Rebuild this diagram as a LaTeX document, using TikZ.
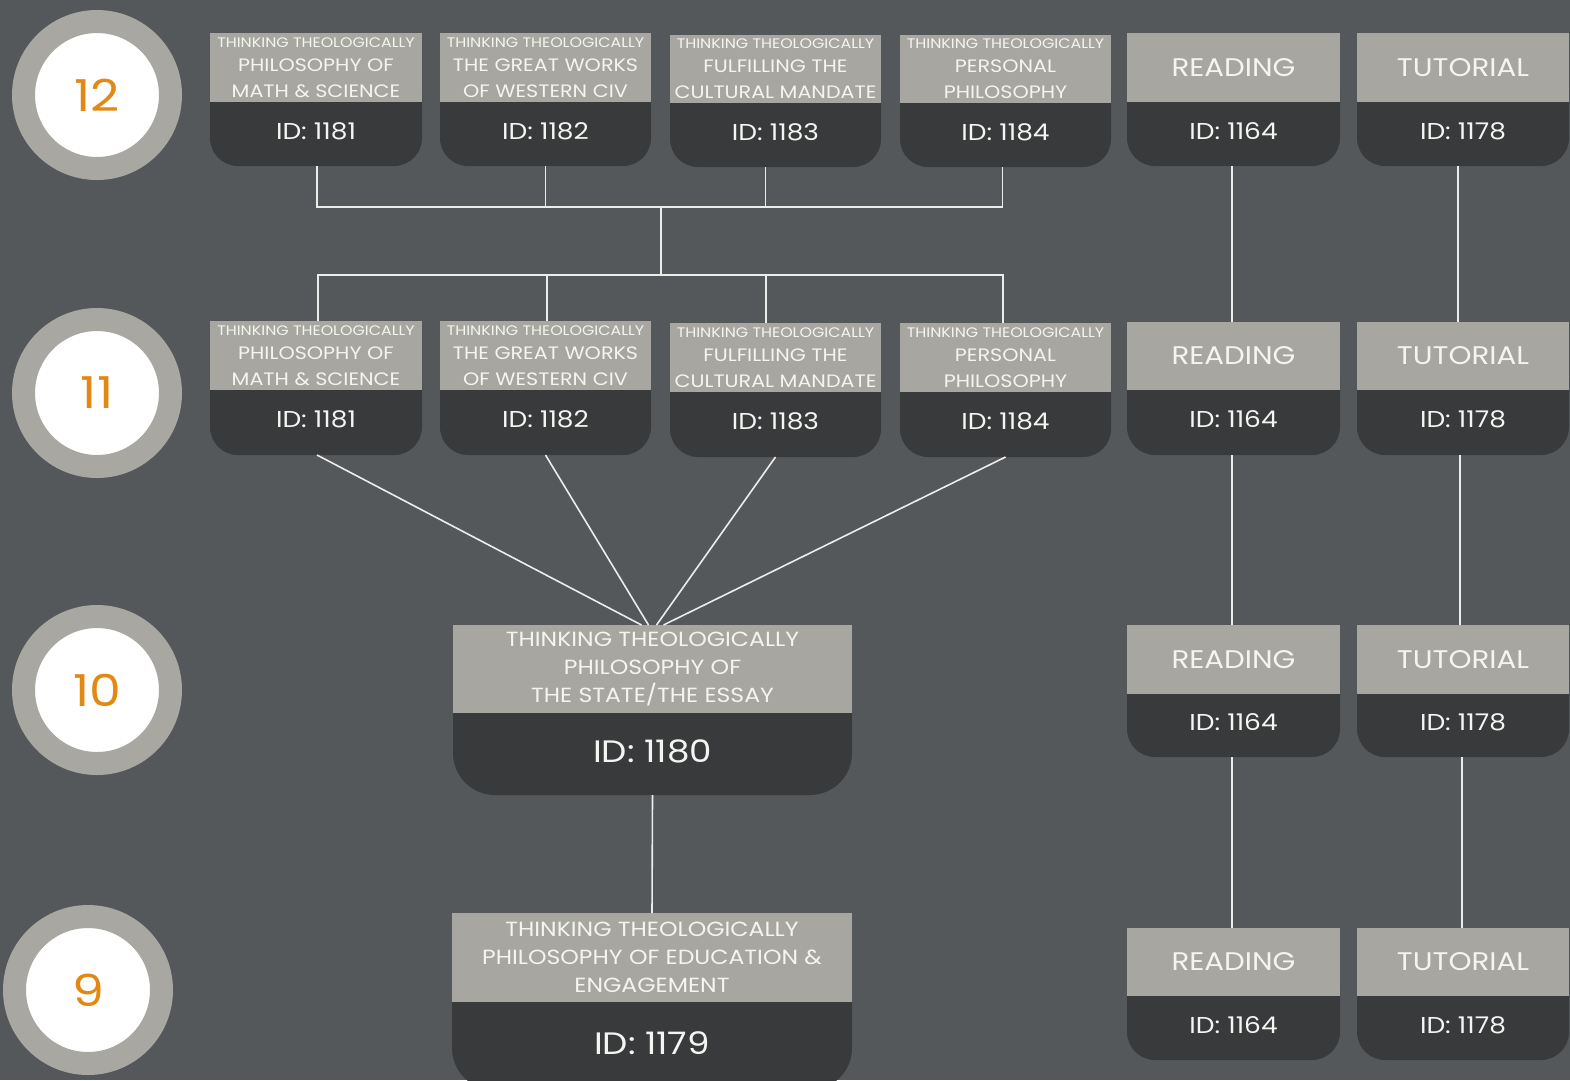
\documentclass[tikz,border=0pt]{standalone}
\usepackage{fontspec}
\setmainfont{Poppins}[FakeStretch=1.15]
\definecolor{bgc}{RGB}{84,88,91}
\definecolor{hdrc}{RGB}{167,166,161}
\definecolor{darkc}{RGB}{56,58,60}
\definecolor{ringc}{RGB}{168,167,162}
\definecolor{numc}{RGB}{226,137,20}
\definecolor{txtc}{RGB}{244,244,240}
\definecolor{linec}{RGB}{236,236,234}
\newcommand\idS{\fontsize{23}{23}\selectfont}
\newcommand\idL{\fontsize{31}{31}\selectfont}
\newcommand\rdf{\fontsize{25.5}{25.5}\selectfont}
\newcommand\thS{{\fontsize{13.8}{15}\selectfont THINKING THEOLOGICALLY}\\[-2pt]}
\newcommand\mkcard[9]{%
  \begin{scope}[#7]
  \node[bodyshape, minimum width={#3-#2}, minimum height={#6-#5+40}] (#1-b) at ({(#2+#3)/2},{(#5-40+#6)/2}) {};
  \node[hdr, minimum width={#3-#2}, minimum height={#5-#4}] (#1) at ({(#2+#3)/2},{(#4+#5)/2}) {#8};
  \node[idtxt] (#1-id) at ({(#2+#3)/2},{(#5+#6)/2-3}) {#9};
  \end{scope}
}
\tikzset{
  bodyshape/.style={rectangle, fill=darkc, inner sep=0pt, outer sep=0pt, rounded corners=28pt},
  hdr/.style={rectangle, fill=hdrc, inner sep=0pt, outer sep=0pt, text=txtc, align=center, font=\fontsize{18}{26}\selectfont},
  smallcard/.style={},
  bigcard/.style={hdr/.append style={font=\fontsize{20.5}{28}\selectfont}, bodyshape/.append style={rounded corners=42pt}},
  idtxt/.style={text=txtc, inner sep=0pt},
  ring/.style={circle, fill=white, draw=ringc, line width=23pt, minimum size=147pt, inner sep=0pt, text=numc, font=\fontsize{44}{44}\selectfont},
  conn/.style={draw=linec, line width=1.6pt}
}
\begin{document}
\begin{tikzpicture}[x=1pt,y=-1pt]
\fill[bgc] (0,0) rectangle (1570,1080);
\useasboundingbox (0,0) rectangle (1570,1080);

% level circles
\node[ring] (n12) at (97,95) {12};
\node[ring] (n11) at (97,393) {11};
\node[ring] (n10) at (97,690) {10};
\node[ring] (n9) at (88,990) {9};

% row 12
\mkcard{c12a}{210}{422}{33}{102}{166}{smallcard}{\thS PHILOSOPHY OF\\MATH \& SCIENCE}{\idS ID: 1181}
\mkcard{c12b}{440}{651}{33}{102}{166}{smallcard}{\thS THE GREAT WORKS\\OF WESTERN CIV}{\idS ID: 1182}
\mkcard{c12c}{670}{881}{35}{103}{167}{smallcard}{\thS FULFILLING THE\\CULTURAL MANDATE}{\idS ID: 1183}
\mkcard{c12d}{900}{1111}{35}{103}{167}{smallcard}{\thS PERSONAL\\PHILOSOPHY}{\idS ID: 1184}
\mkcard{r12}{1127}{1340}{33}{102}{166}{smallcard}{\rdf READING}{\idS ID: 1164}
\mkcard{t12}{1357}{1569}{33}{102}{166}{smallcard}{\rdf TUTORIAL}{\idS ID: 1178}

% row 11
\mkcard{c11a}{210}{422}{321}{390}{455}{smallcard}{\thS PHILOSOPHY OF\\MATH \& SCIENCE}{\idS ID: 1181}
\mkcard{c11b}{440}{651}{321}{390}{455}{smallcard}{\thS THE GREAT WORKS\\OF WESTERN CIV}{\idS ID: 1182}
\mkcard{c11c}{670}{881}{323}{392}{457}{smallcard}{\thS FULFILLING THE\\CULTURAL MANDATE}{\idS ID: 1183}
\mkcard{c11d}{900}{1111}{323}{392}{457}{smallcard}{\thS PERSONAL\\PHILOSOPHY}{\idS ID: 1184}
\mkcard{r11}{1127}{1340}{322}{390}{455}{smallcard}{\rdf READING}{\idS ID: 1164}
\mkcard{t11}{1357}{1569}{322}{390}{455}{smallcard}{\rdf TUTORIAL}{\idS ID: 1178}

% row 10
\mkcard{c10}{453}{852}{625}{713}{795}{bigcard}{THINKING THEOLOGICALLY\\PHILOSOPHY OF\\THE STATE/THE ESSAY}{\idL ID: 1180}
\mkcard{r10}{1127}{1340}{625}{694}{757}{smallcard}{\rdf READING}{\idS ID: 1164}
\mkcard{t10}{1357}{1569}{625}{694}{757}{smallcard}{\rdf TUTORIAL}{\idS ID: 1178}

% row 9
\mkcard{c9}{452}{852}{913}{1002}{1090}{bigcard}{THINKING THEOLOGICALLY\\PHILOSOPHY OF EDUCATION \&\\ENGAGEMENT}{\idL ID: 1179}
\mkcard{r9}{1127}{1340}{928}{996}{1060}{smallcard}{\rdf READING}{\idS ID: 1164}
\mkcard{t9}{1357}{1569}{928}{996}{1060}{smallcard}{\rdf TUTORIAL}{\idS ID: 1178}

% connectors 12 -> 11
\coordinate (j1) at (661,207);
\coordinate (j2) at (661,275);
\draw[conn] ([xshift=1]c12a-b.south) |- (j1);
\draw[conn] (c12b-b.south) |- (j1);
\draw[conn] ([xshift=-10]c12c-b.south) |- (j1);
\draw[conn] ([xshift=-3]c12d-b.south) |- (j1);
\draw[conn] (j1) -- (j2);
\draw[conn] (j2) -| ([xshift=2]c11a.north);
\draw[conn] (j2) -| ([xshift=1.5]c11b.north);
\draw[conn] (j2) -| ([xshift=-9.5]c11c.north);
\draw[conn] (j2) -| ([xshift=-2.5]c11d.north);

% connectors 11 -> 10
\draw[conn] ([xshift=1]c11a-b.south) -- ([xshift=-11]c10.north);
\draw[conn] (c11b-b.south) -- ([xshift=-4]c10.north);
\draw[conn] (c11c-b.south) -- ([xshift=4]c10.north);
\draw[conn] (c11d-b.south) -- ([xshift=11]c10.north);

% connector 10 -> 9
\draw[conn] (c10-b.south) -- (c9.north);

% reading / tutorial chains
\draw[conn] ([xshift=-1.5]r12-b.south) -- ([xshift=-1.5]r11.north);
\draw[conn] ([xshift=-1.5]r11-b.south) -- ([xshift=-1.5]r10.north);
\draw[conn] ([xshift=-1.5]r10-b.south) -- ([xshift=-1.5]r9.north);
\draw[conn] ([xshift=-5]t12-b.south) -- ([xshift=-5]t11.north);
\draw[conn] ([xshift=-3]t11-b.south) -- ([xshift=-3]t10.north);
\draw[conn] ([xshift=-1]t10-b.south) -- ([xshift=-1]t9.north);
\end{tikzpicture}
\end{document}
